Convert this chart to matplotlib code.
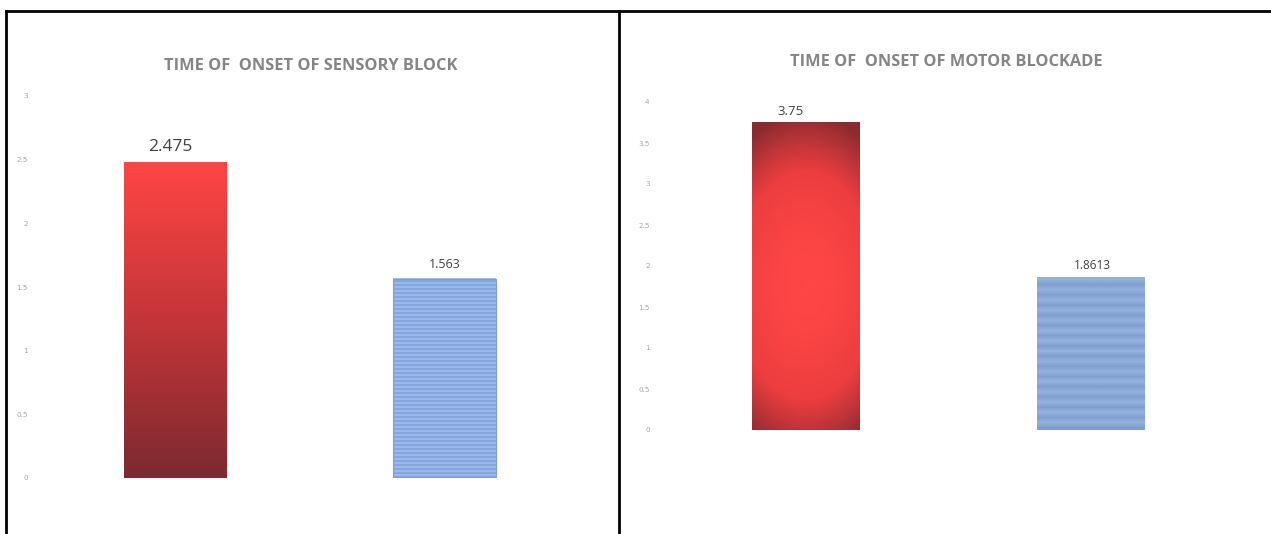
import numpy as np
import matplotlib.pyplot as plt
from matplotlib.colors import LinearSegmentedColormap
from matplotlib.lines import Line2D

# data
groups = ["Group A", "Group B"]
sensory_vals = [2.475, 1.563]
sensory_labels = ["2.475", "1.563"]
motor_vals = [3.75, 1.8613]
motor_labels = ["3.75", "1.8613"]
sensory_ticks = [0, 0.5, 1, 1.5, 2, 2.5, 3]
motor_ticks = [0, 0.5, 1, 1.5, 2, 2.5, 3, 3.5, 4]

W, H = 1271, 534
fig = plt.figure(figsize=(W / 100, H / 100), dpi=100)
fig.patch.set_facecolor("white")

red_lin = LinearSegmentedColormap.from_list("rl", ["#7c2a30", "#c43538", "#ff4545"])
red_rad = LinearSegmentedColormap.from_list("rr", ["#ff4646", "#ec3d3f", "#8a2b30"])
blue_a = LinearSegmentedColormap.from_list("ba", ["#7c9fd6", "#a2c2f2"])
blue_b = LinearSegmentedColormap.from_list("bb", ["#809fcd", "#93b3df"])


def px_axes(x0, x1, y_top, y_bot):
    return fig.add_axes([x0 / W, (H - y_bot) / H, (x1 - x0) / W, (y_bot - y_top) / H])


def fill_red_linear(ax, p):
    g = np.linspace(0, 1, 256).reshape(-1, 1)
    x, w, h = p.get_x(), p.get_width(), p.get_height()
    ax.imshow(g, cmap=red_lin, origin="lower", aspect="auto",
              extent=(x, x + w, 0, h), zorder=2, interpolation="bilinear")


def fill_red_radial(ax, p):
    yy, xx = np.mgrid[0:1:300j, 0:1:120j]
    r = np.sqrt(((xx - 0.5) / 1.0) ** 2 + ((yy - 0.47) / 0.56) ** 2)
    r = np.clip(r, 0, 1) ** 1.7
    x, w, h = p.get_x(), p.get_width(), p.get_height()
    ax.imshow(r, cmap=red_rad, origin="lower", aspect="auto",
              extent=(x, x + w, 0, h), zorder=2, interpolation="bilinear")


def fill_stripes(ax, p, n, cmap):
    s = (np.arange(n * 2) % 2).reshape(-1, 1).astype(float)
    x, w, h = p.get_x(), p.get_width(), p.get_height()
    ax.imshow(s, cmap=cmap, origin="lower", aspect="auto",
              extent=(x, x + w, 0, h), zorder=2, interpolation="bilinear")


def style(ax, ticks, ylim, pad):
    ax.set_ylim(*ylim)
    ax.set_yticks(ticks)
    ax.set_yticklabels([f"{t:g}" for t in ticks], fontsize=5.2, color="#a6a6a6",
                       family="DejaVu Sans")
    ax.tick_params(axis="y", length=0, pad=pad)
    ax.set_xticks([])
    for s in ax.spines.values():
        s.set_visible(False)
    ax.patch.set_alpha(0)


# left panel: sensory block
ax1 = px_axes(60, 560, 96, 478)
ax1.set_xlim(-0.4294, 1.4294)
bars1 = ax1.bar(range(len(groups)), sensory_vals, width=0.38, color="none",
                edgecolor="none", zorder=3)
fill_red_linear(ax1, bars1[0])
fill_stripes(ax1, bars1[1], 50, blue_a)
ax1.bar(1, sensory_vals[1], width=0.38, color="none", edgecolor="#7f9fd0",
        linewidth=0.8, zorder=3)
style(ax1, sensory_ticks, (0, 3), 23)
ax1.text(bars1[0].get_x() + bars1[0].get_width() / 2 - 0.02, sensory_vals[0] + 0.06,
         sensory_labels[0], ha="center", va="bottom", fontsize=12.5,
         color="#404040", family="Open Sans", clip_on=False)
ax1.text(1.0, sensory_vals[1] + 0.06, sensory_labels[1], ha="center", va="bottom",
         fontsize=9, color="#404040", family="Open Sans", clip_on=False)

# right panel: motor blockade
ax2 = px_axes(690, 1205.5, 102, 430)
ax2.set_xlim(-0.403, 1.403)
bars2 = ax2.bar(range(len(groups)), motor_vals, width=0.375, color="none",
                edgecolor="none", zorder=3)
fill_red_radial(ax2, bars2[0])
fill_stripes(ax2, bars2[1], 15, blue_b)
style(ax2, motor_ticks, (0, 4), 29)
ax2.text(-0.05, motor_vals[0] + 0.06, motor_labels[0], ha="center", va="bottom",
         fontsize=9.5, color="#404040", family="Open Sans", clip_on=False)
ax2.text(1.005, motor_vals[1] + 0.06, motor_labels[1], ha="center", va="bottom",
         fontsize=8.5, color="#404040", family="Open Sans", clip_on=False)

# titles
fig.text(311 / W, 1 - 66 / H, "TIME OF  ONSET OF SENSORY BLOCK", ha="center",
         va="center", fontsize=11.8, weight="bold", color="#858585", family="Open Sans")
fig.text(946 / W, 1 - 62 / H, "TIME OF  ONSET OF MOTOR BLOCKADE", ha="center",
         va="center", fontsize=11.8, weight="bold", color="#858585", family="Open Sans")

# frame lines
for xs, ys in [((5.5, W), (H - 10.5, H - 10.5)),
               ((5.5, 5.5), (0, H - 10.5)),
               ((619, 619), (0, H - 10.5))]:
    fig.add_artist(Line2D(np.array(xs) / W, np.array(ys) / H, color="black",
                          linewidth=2, transform=fig.transFigure))

fig.savefig("out.png", dpi=100, facecolor="white")
